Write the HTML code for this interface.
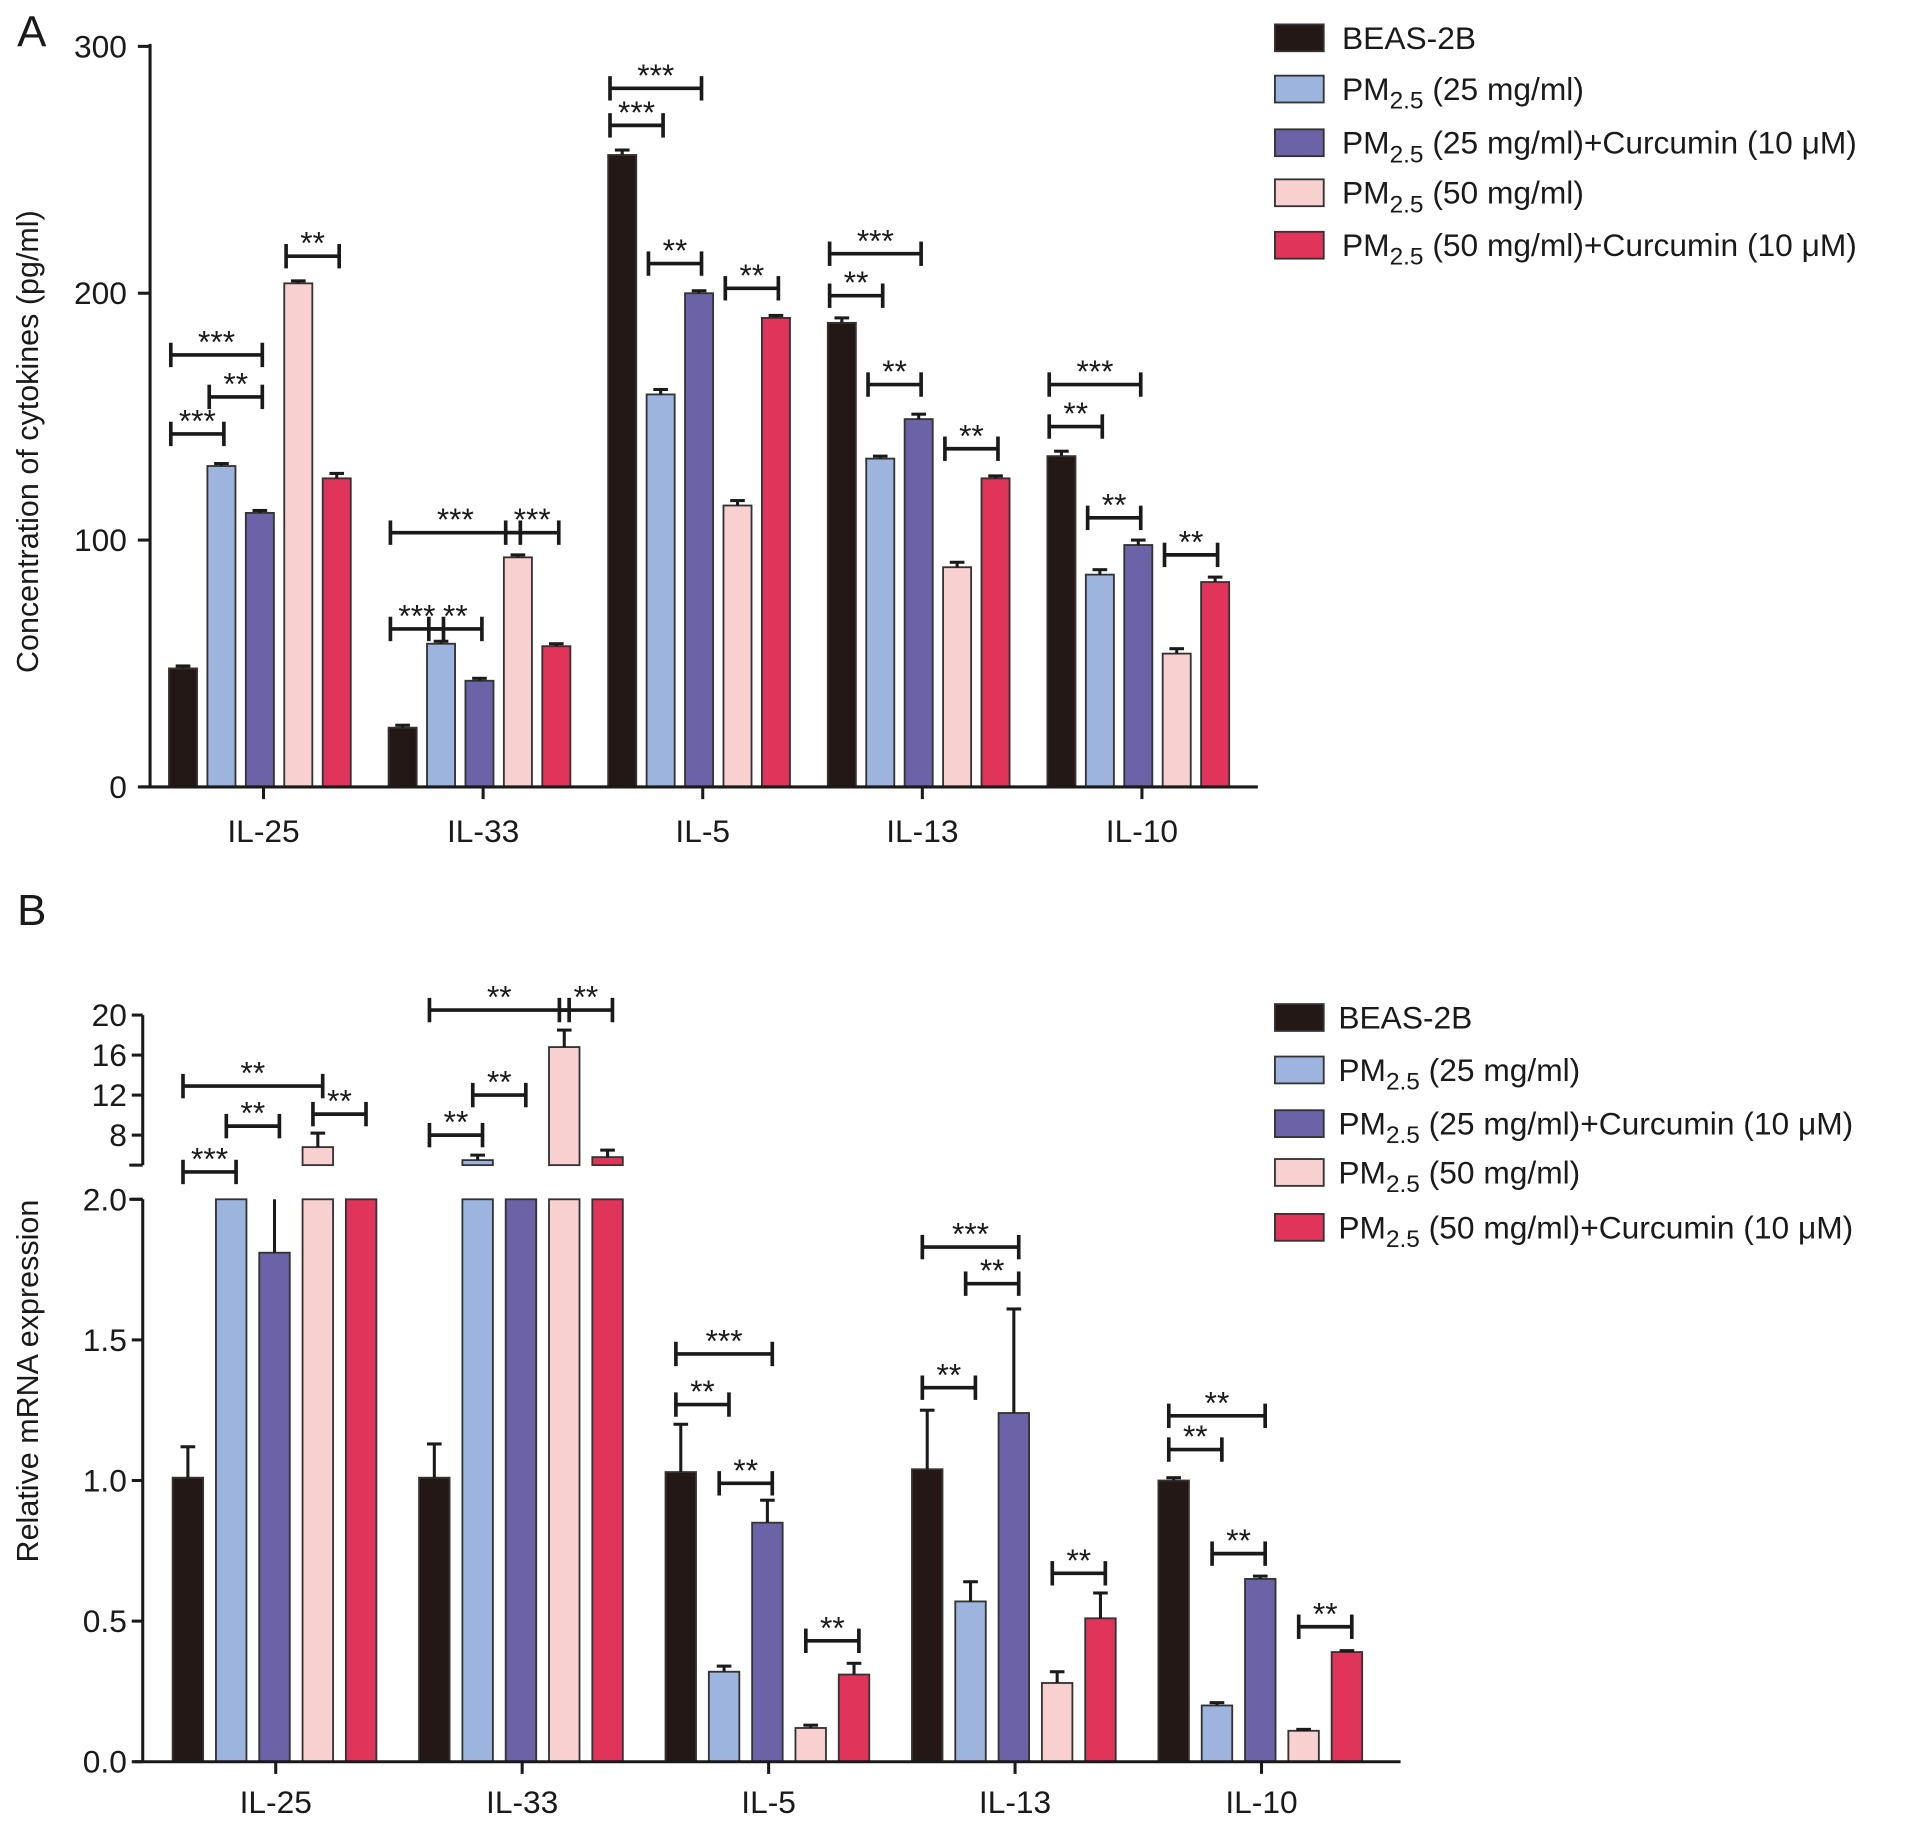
<!DOCTYPE html>
<html><head><meta charset="utf-8"><style>
html,body{margin:0;padding:0;background:#fff;}
svg{display:block;font-family:"Liberation Sans",Arial,sans-serif;}
</style></head><body>
<svg id="fig" width="1913" height="1832" viewBox="0 0 1568 1501.6" xmlns="http://www.w3.org/2000/svg"></svg>
<script>
const categories = ["IL-25","IL-33","IL-5","IL-13","IL-10"];
const seriesNames = ["BEAS-2B","PM25 (25 mg/ml)","PM25 (25 mg/ml)+Curcumin (10 μM)","PM25 (50 mg/ml)","PM25 (50 mg/ml)+Curcumin (10 μM)"];
const aBeas = [48,24,256,188,134];
const aPm25 = [130,58,159,133,86];
const aPm25Cur = [111,43,200,149,98];
const aPm50 = [204,93,114,89,54];
const aPm50Cur = [125,57,190,125,83];
const aErr = [[1,1,2,2,2],[1,1,2,1,2],[1,1,1,2,2],[1,1,2,2,2],[2,1,1,1,2]];
const aTicks = [0,100,200,300];
const aSig = [
 [0,0,1,143,"***"],[0,0,2,175,"***"],[0,1,2,158,"**"],[0,3,4,215,"**"],
 [1,0,3,103,"***"],[1,3,4,103,"***"],[1,0,1,64,"***"],[1,1,2,64,"**"],
 [2,0,2,283,"***"],[2,0,1,268,"***"],[2,1,2,212,"**"],[2,3,4,202,"**"],
 [3,0,2,216,"***"],[3,0,1,199,"**"],[3,1,2,163,"**"],[3,3,4,137,"**"],
 [4,0,2,163,"***"],[4,0,1,146,"**"],[4,1,2,109,"**"],[4,3,4,94,"**"]
];
const bBeas = [1.01,1.01,1.03,1.04,1.00];
const bPm25 = [4.0,5.5,0.32,0.57,0.20];
const bPm25Cur = [1.81,4.0,0.85,1.24,0.65];
const bPm50 = [6.8,16.8,0.12,0.28,0.11];
const bPm50Cur = [4.0,5.8,0.31,0.51,0.39];
const bErr = [[0.11,0.12,0.17,0.21,0.01],[0,0.5,0.02,0.07,0.01],[0.6,0,0.08,0.37,0.01],[1.4,1.7,0.01,0.04,0.005],[0,0.7,0.04,0.09,0.005]];
const bTicksLow = [0.0,0.5,1.0,1.5,2.0];
const bTicksHigh = [8,12,16,20];
const bSig = [
 [0,0,1,4.4,"***"],[0,0,3,12.9,"**"],[0,1,2,8.9,"**"],[0,3,4,10.1,"**"],
 [1,0,3,20.5,"**"],[1,3,4,20.5,"**"],[1,0,1,8,"**"],[1,1,2,12,"**"],
 [2,0,2,1.45,"***"],[2,0,1,1.27,"**"],[2,1,2,0.99,"**"],[2,3,4,0.43,"**"],
 [3,0,2,1.83,"***"],[3,1,2,1.70,"**"],[3,0,1,1.33,"**"],[3,3,4,0.67,"**"],
 [4,0,2,1.23,"**"],[4,0,1,1.11,"**"],[4,1,2,0.74,"**"],[4,3,4,0.48,"**"]
];
const colors = ["#231815","#9db5de","#6b62a8","#f9d0d0","#e0345a"];

const svg = document.getElementById('fig');
const NS = "http://www.w3.org/2000/svg";
function mk(tag, attrs, parent){const e=document.createElementNS(NS,tag);for(const k in attrs)e.setAttribute(k,attrs[k]);(parent||svg).appendChild(e);return e;}
function line(x1,y1,x2,y2,w,p){return mk('line',{x1,y1,x2,y2,stroke:'#1a1a1a','stroke-width':w||2.5},p);}
function txt(x,y,s,size,anchor,p){const t=mk('text',{x,y,'font-size':size,'text-anchor':anchor||'middle',fill:'#1a1a1a'},p);t.textContent=s;return t;}

// ===== Panel A =====
const aSeries=[aBeas,aPm25,aPm25Cur,aPm50,aPm50Cur];
const gA=mk('g',{});


const yA=v=>645-(v/300)*(645-38);
const cxA=c=>216+c*180;
const bxA=(c,i)=>cxA(c)-3+(i-2)*31.5;
const pl=txt(26,38,"A",36,'middle',gA);
const yt=txt(0,0,"Concentration of cytokines (pg/ml)",25,'middle',gA);yt.setAttribute('transform','translate(31,362) rotate(-90)');

aSeries.forEach((arr,i)=>arr.forEach((v,c)=>{
 const x=bxA(c,i),w=23,top=yA(v);
 const r=mk('rect',{x:x-w/2,y:top,width:w,height:645-top,fill:colors[i],stroke:'#333','stroke-width':1.5},gA);
 
 
 const e=yA(v+aErr[i][c]);line(x,top,x,e,2.5,gA);line(x-6,e,x+6,e,2.5,gA);
}));
line(123,36,123,646,2.5,gA);line(115,645,1031,645,2.5,gA);
aTicks.forEach(t=>{line(113,yA(t),123,yA(t),2.5,gA);const l=txt(104,yA(t)+9,String(t),26,'end',gA);});
categories.forEach((c,i)=>{line(cxA(i),645,cxA(i),655,2.5,gA);const l=txt(cxA(i),690,c,26,'middle',gA);});
aSig.forEach(s=>{const x1=bxA(s[0],s[1])-10,x2=bxA(s[0],s[2])+2,y=yA(s[3]);
 line(x1,y,x2,y,3,gA);line(x1,y-10,x1,y+10,3,gA);line(x2,y-10,x2,y+10,3,gA);
 const l=txt((x1+x2)/2,y-2,s[4],26,'middle',gA);});

// ===== Panel B =====
const bSeries=[bBeas,bPm25,bPm25Cur,bPm50,bPm50Cur];
const gB=mk('g',{});


const yLow=v=>1444-(v/2)*(1444-983);
const yHigh=v=>955-(v-5)*(955-832)/15;
const yB=v=>v<=2?yLow(v):(v>=5?yHigh(v):983-(v-2)*(983-955)/3);
const cxB=c=>226+c*202;
const bxB=(c,i)=>cxB(c)-1+(i-2)*35.5;
const pb=txt(26,758,"B",36,'middle',gB);
const ytb=txt(0,0,"Relative mRNA expression",25,'middle',gB);ytb.setAttribute('transform','translate(31,1132) rotate(-90)');

bSeries.forEach((arr,i)=>arr.forEach((v,c)=>{
 const x=bxB(c,i),w=25;
 const lowTop=yLow(Math.min(v,2));
 const r=mk('rect',{x:x-w/2,y:lowTop,width:w,height:1444-lowTop,fill:colors[i],stroke:'#333','stroke-width':1.5},gB);
 
 
 if(v>5){const t=yHigh(v);mk('rect',{x:x-w/2,y:t,width:w,height:955-t,fill:colors[i],stroke:'#333','stroke-width':1.5},gB);}
 const err=bErr[i][c];
 if(err>0){
  if(v<2){const e=yLow(Math.min(v+err,2));line(x,lowTop,x,e,2.5,gB);if(v+err<=2)line(x-6,e,x+6,e,2.5,gB);}
  else if(v>5){const e=yHigh(v+err);line(x,yHigh(v),x,e,2.5,gB);line(x-6,e,x+6,e,2.5,gB);}
 }
}));
line(117,983,117,1445,2.5,gB);line(117,832,117,955,2.5,gB);line(110,1444,1148,1444,2.5,gB);
line(106,983,117,983,2.5,gB);line(106,955,117,955,2.5,gB);
bTicksLow.forEach(t=>{line(108,yLow(t),117,yLow(t),2.5,gB);const l=txt(104,yLow(t)+9,t.toFixed(1),26,'end',gB);});
bTicksHigh.forEach(t=>{line(108,yHigh(t),117,yHigh(t),2.5,gB);const l=txt(104,yHigh(t)+9,String(t),26,'end',gB);});
categories.forEach((c,i)=>{line(cxB(i),1444,cxB(i),1454,2.5,gB);const l=txt(cxB(i),1486,c,26,'middle',gB);});
bSig.forEach(s=>{const x1=bxB(s[0],s[1])-4,x2=bxB(s[0],s[2])+4,y=yB(s[3]);
 line(x1,y,x2,y,3,gB);line(x1,y-10,x1,y+10,3,gB);line(x2,y-10,x2,y+10,3,gB);
 const l=txt((x1+x2)/2,y-2,s[4],26,'middle',gB);});

// ===== Legends =====
function legend(boxY, textX, name){
 const g=mk('g',{});
 
 
 const labels=[["BEAS-2B",""],["PM","(25 mg/ml)"],["PM","(25 mg/ml)+Curcumin (10 μM)"],["PM","(50 mg/ml)"],["PM","(50 mg/ml)+Curcumin (10 μM)"]];
 labels.forEach((lb,i)=>{
  const y=boxY[i];
  const r=mk('rect',{x:1045,y:y,width:40,height:22,fill:colors[i],stroke:'#333','stroke-width':1.5},g);
  
  
  const t=mk('text',{x:textX,y:y+20,'font-size':26,fill:'#1a1a1a'},g);
  
  
  if(i===0){t.textContent=lb[0];}
  else{const a=mk('tspan',{},t);a.textContent="PM";const b=mk('tspan',{dy:7,'font-size':20},t);b.textContent="2.5";const c=mk('tspan',{dy:-7},t);c.textContent=" "+lb[1];}
 });
}
legend([20,62,106,147,190],1100,'legend-a');
legend([823,866,910,950,995],1097,'legend-b');
</script>
</body></html>
